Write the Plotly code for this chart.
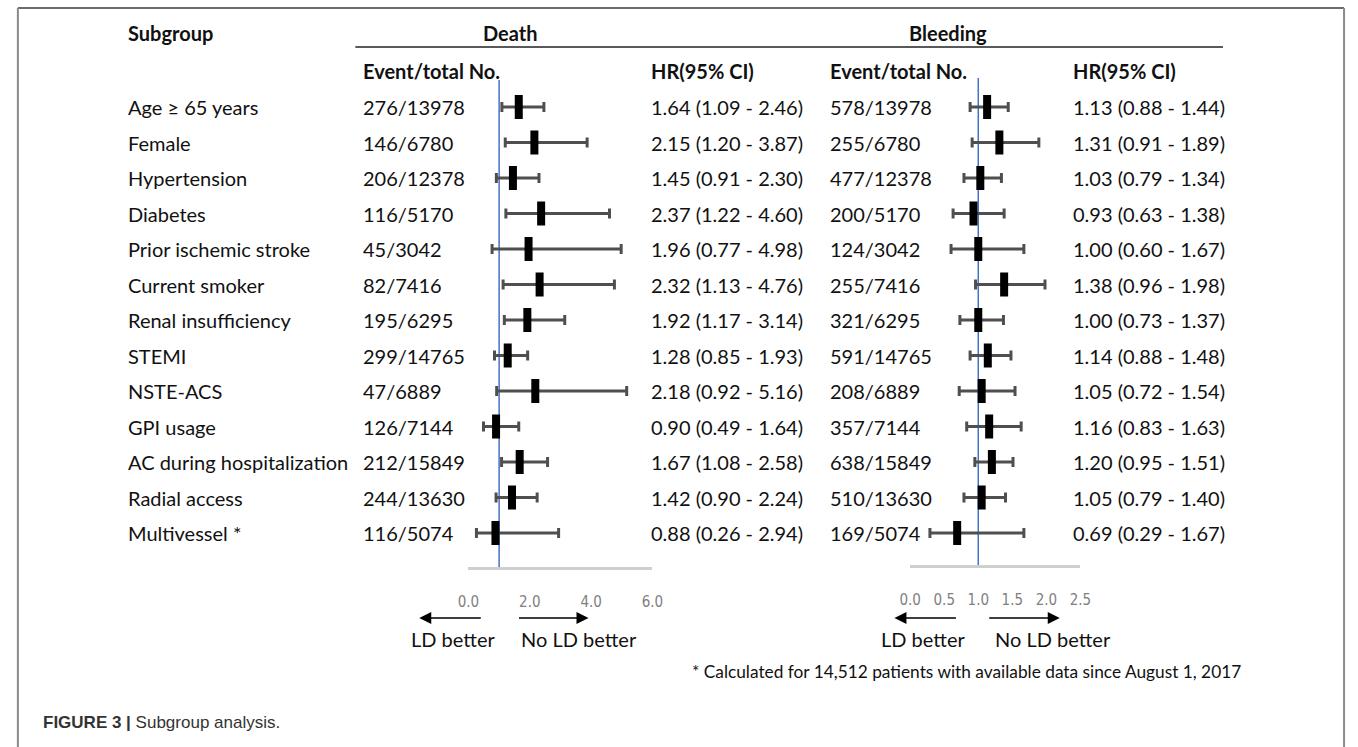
import plotly.graph_objects as go

# ---------------- data ----------------
subgroups = ["Age ≥ 65 years", "Female", "Hypertension", "Diabetes", "Prior ischemic stroke",
             "Current smoker", "Renal insufficiency", "STEMI", "NSTE-ACS", "GPI usage",
             "AC during hospitalization", "Radial access", "Multivessel *"]
death_events = ["276/13978", "146/6780", "206/12378", "116/5170", "45/3042", "82/7416", "195/6295",
                "299/14765", "47/6889", "126/7144", "212/15849", "244/13630", "116/5074"]
death_hr = [1.64, 2.15, 1.45, 2.37, 1.96, 2.32, 1.92, 1.28, 2.18, 0.90, 1.67, 1.42, 0.88]
death_lo = [1.09, 1.20, 0.91, 1.22, 0.77, 1.13, 1.17, 0.85, 0.92, 0.49, 1.08, 0.90, 0.26]
death_hi = [2.46, 3.87, 2.30, 4.60, 4.98, 4.76, 3.14, 1.93, 5.16, 1.64, 2.58, 2.24, 2.94]
bleed_events = ["578/13978", "255/6780", "477/12378", "200/5170", "124/3042", "255/7416", "321/6295",
                "591/14765", "208/6889", "357/7144", "638/15849", "510/13630", "169/5074"]
bleed_hr = [1.13, 1.31, 1.03, 0.93, 1.00, 1.38, 1.00, 1.14, 1.05, 1.16, 1.20, 1.05, 0.69]
bleed_lo = [0.88, 0.91, 0.79, 0.63, 0.60, 0.96, 0.73, 0.88, 0.72, 0.83, 0.95, 0.79, 0.29]
bleed_hi = [1.44, 1.89, 1.34, 1.38, 1.67, 1.98, 1.37, 1.48, 1.54, 1.63, 1.51, 1.40, 1.67]
death_ticks = [0, 2, 4, 6]
death_ticktext = ["0.0", "2.0", "4.0", "6.0"]
bleed_ticks = [0, 0.5, 1.0, 1.5, 2.0, 2.5]
bleed_ticktext = ["0.0", "0.5", "1.0", "1.5", "2.0", "2.5"]
footnote = "* Calculated for 14,512 patients with available data since August 1, 2017"
caption = "<b>FIGURE 3 |</b> Subgroup analysis."

# ---------------- layout helpers ----------------
W, H = 1358, 747
def px(x):
    return x / W
def py(y):
    return 1 - y / H

ROW0, ROWSTEP = 107, 35.5
yrange = [(H - ROW0) / ROWSTEP, -ROW0 / ROWSTEP]
rows = list(range(len(subgroups)))

FONT = "Lato, Carlito, Calibri, sans-serif"
FS = 20
TXT = "#111111"

fig = go.Figure()

def forest(hr, lo, hi, xa):
    return go.Scatter(
        x=hr, y=rows, xaxis=xa, yaxis="y", mode="markers", hoverinfo="skip",
        marker=dict(symbol="line-ns-open", size=17, color="black",
                    line=dict(width=8, color="black")),
        error_x=dict(type="data", symmetric=False,
                     array=[h - m for h, m in zip(hi, hr)],
                     arrayminus=[m - l for m, l in zip(hr, lo)],
                     color="#4f4f4f", thickness=3, width=5),
        showlegend=False)

fig.add_trace(forest(death_hr, death_lo, death_hi, "x"))
fig.add_trace(forest(bleed_hr, bleed_lo, bleed_hi, "x2"))

ann = []
def text(x, y, s, yref="paper", size=FS, bold=False, xanchor="left", color=TXT, family=FONT):
    ann.append(dict(x=x, y=y, xref="paper", yref=yref, text=("<b>%s</b>" % s) if bold else s,
                    showarrow=False, xanchor=xanchor, yanchor="middle",
                    font=dict(family=family, size=size, color=color)))

COL_LABEL, COL_DEV, COL_DHR, COL_BEV, COL_BHR = 117, 356, 648, 830, 1077

# headers
text(px(COL_LABEL), py(33), "Subgroup", bold=True)
text(px(508), py(33), "Death", bold=True, xanchor="center")
text(px(952), py(33), "Bleeding", bold=True, xanchor="center")
for cx in (COL_DEV, COL_BEV):
    text(px(cx), py(71), "Event/total No.", bold=True)
for cx in (COL_DHR, COL_BHR):
    text(px(cx), py(71), "HR(95% CI)", bold=True)

# rows
for i in rows:
    text(px(COL_LABEL), i, subgroups[i], yref="y")
    text(px(COL_DEV), i, death_events[i], yref="y")
    text(px(COL_DHR), i, "%.2f (%.2f - %.2f)" % (death_hr[i], death_lo[i], death_hi[i]), yref="y")
    text(px(COL_BEV), i, bleed_events[i], yref="y")
    text(px(COL_BHR), i, "%.2f (%.2f - %.2f)" % (bleed_hr[i], bleed_lo[i], bleed_hi[i]), yref="y")

# arrows + direction labels
def arrow(x_head, x_tail, y):
    ann.append(dict(x=px(x_head), y=py(y), xref="paper", yref="paper", text="",
                    showarrow=True, ax=x_tail - x_head, ay=0, axref="pixel", ayref="pixel",
                    arrowhead=2, arrowsize=1.5, arrowwidth=1.6, arrowcolor="black", standoff=0))

arrow(415, 478, 618); arrow(587, 516, 618)
arrow(898, 961, 618); arrow(1066, 994, 618)
text(px(449), py(639), "LD better", xanchor="center")
text(px(577), py(639), "No LD better", xanchor="center")
text(px(927), py(639), "LD better", xanchor="center")
text(px(1059), py(639), "No LD better", xanchor="center")

text(px(690), py(671), footnote, size=17.3)
text(px(30), py(722), caption, size=17, color="#333333", family="Liberation Sans, Arial, sans-serif")

shapes = [
    # frame
    dict(type="line", xref="paper", yref="paper", x0=px(7), x1=px(1355), y0=py(8), y1=py(8),
         line=dict(color="#3a3a3a", width=1.5)),
    dict(type="line", xref="paper", yref="paper", x0=px(7), x1=px(7), y0=py(8), y1=py(760),
         line=dict(color="#8a8a8a", width=2)),
    dict(type="line", xref="paper", yref="paper", x0=px(1355), x1=px(1355), y0=py(8), y1=py(760),
         line=dict(color="#8a8a8a", width=2)),
    # header underline
    dict(type="line", xref="paper", yref="paper", x0=px(350), x1=px(1232), y0=py(47), y1=py(47),
         line=dict(color="#222222", width=1.6)),
    # reference lines at HR = 1
    dict(type="line", xref="x", yref="paper", x0=1, x1=1, y0=py(568), y1=py(80),
         line=dict(color="#4472C4", width=1.5), layer="below"),
    dict(type="line", xref="x2", yref="paper", x0=1, x1=1, y0=py(566), y1=py(78),
         line=dict(color="#4472C4", width=1.5), layer="below"),
]

tickfont = dict(family="DejaVu Sans Condensed, Liberation Sans Narrow, Roboto Condensed, sans-serif",
                size=15, color="#808080")
common_x = dict(showgrid=False, zeroline=False, showline=True, linecolor="#cfcfcf", linewidth=3,
                ticks="", anchor="free", tickfont=tickfont, ticklabelstandoff=19, fixedrange=True)

fig.update_layout(
    width=W, height=H, autosize=False,
    margin=dict(l=0, r=0, t=0, b=0, pad=0),
    paper_bgcolor="white", plot_bgcolor="white",
    xaxis=dict(domain=[px(465), px(652)], range=[0, 6], position=py(568),
               tickvals=death_ticks, ticktext=death_ticktext, **common_x),
    xaxis2=dict(domain=[px(914), px(1087)], range=[0, 2.5], position=py(566),
                tickvals=bleed_ticks, ticktext=bleed_ticktext, **common_x),
    yaxis=dict(domain=[0, 1], range=yrange, visible=False, showgrid=False, zeroline=False,
               fixedrange=True),
    annotations=ann, shapes=shapes, showlegend=False,
)

fig.write_html("out.html", config={"displayModeBar": False},
               post_script="document.body.style.margin='0';document.body.style.overflow='hidden';")
